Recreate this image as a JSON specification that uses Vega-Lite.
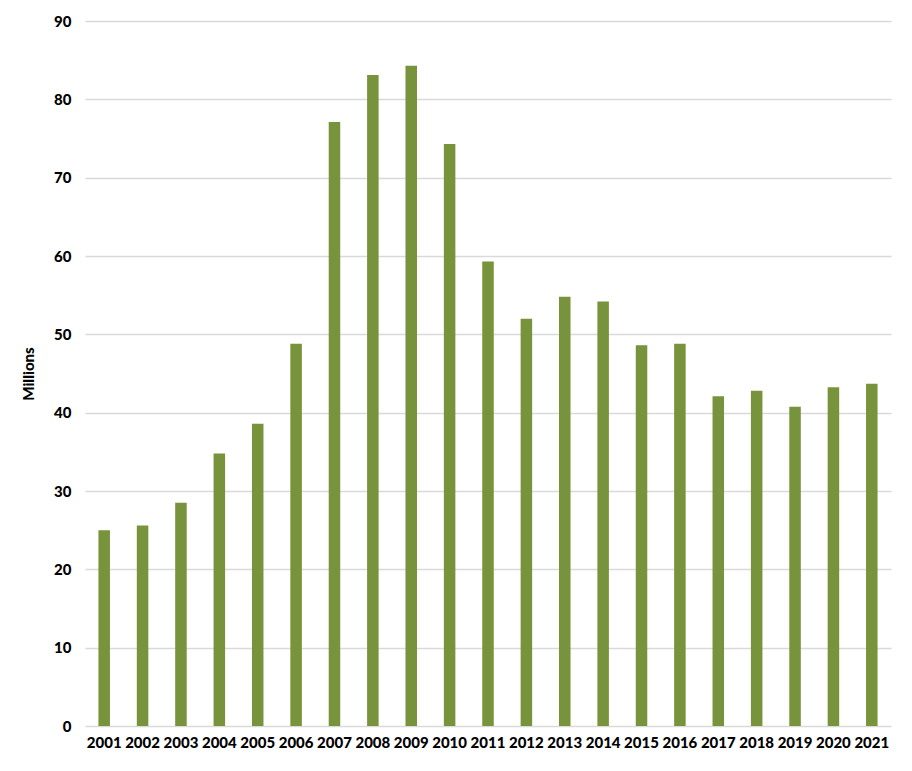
{
  "$schema": "https://vega.github.io/schema/vega-lite/v6.json",
  "width": 806,
  "height": 705,
  "autosize": {"type": "none"},
  "padding": {"left": 85, "top": 21, "right": 21, "bottom": 45},
  "background": "white",
  "data": {
    "values": [
      {"year": "2001", "value": 25.0},
      {"year": "2002", "value": 25.6},
      {"year": "2003", "value": 28.5},
      {"year": "2004", "value": 34.8},
      {"year": "2005", "value": 38.6},
      {"year": "2006", "value": 48.8},
      {"year": "2007", "value": 77.1},
      {"year": "2008", "value": 83.1},
      {"year": "2009", "value": 84.3},
      {"year": "2010", "value": 74.3},
      {"year": "2011", "value": 59.3},
      {"year": "2012", "value": 52.0},
      {"year": "2013", "value": 54.8},
      {"year": "2014", "value": 54.2},
      {"year": "2015", "value": 48.6},
      {"year": "2016", "value": 48.8},
      {"year": "2017", "value": 42.1},
      {"year": "2018", "value": 42.8},
      {"year": "2019", "value": 40.75},
      {"year": "2020", "value": 43.25},
      {"year": "2021", "value": 43.7}
    ]
  },
  "mark": {"type": "bar", "color": "#77933C"},
  "encoding": {
    "x": {
      "field": "year",
      "type": "ordinal",
      "title": null,
      "scale": {"paddingInner": 0.7, "paddingOuter": 0.35},
      "axis": {
        "labelAngle": 0,
        "ticks": false,
        "domain": false,
        "labelPadding": 9,
        "labelFont": "Lato",
        "labelFontWeight": 900,
        "labelFontSize": 15,
        "labelColor": "#000000"
      }
    },
    "y": {
      "field": "value",
      "type": "quantitative",
      "title": "Millions",
      "scale": {"domain": [0, 90], "nice": false},
      "axis": {
        "values": [0, 10, 20, 30, 40, 50, 60, 70, 80, 90],
        "ticks": false,
        "domain": false,
        "grid": true,
        "gridColor": "#d9d9d9",
        "gridWidth": 1.5,
        "labelPadding": 14,
        "labelFont": "Lato",
        "labelFontWeight": 900,
        "labelFontSize": 15,
        "labelColor": "#000000",
        "titleFont": "Lato",
        "titleFontWeight": 900,
        "titleFontSize": 15,
        "titleColor": "#000000",
        "titlePadding": 17
      }
    }
  },
  "config": {"view": {"stroke": null}}
}
